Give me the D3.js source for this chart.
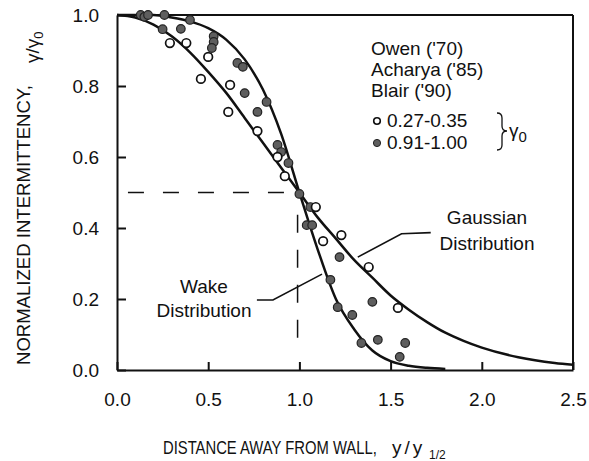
<!DOCTYPE html>
<html>
<head>
<meta charset="utf-8">
<script src="https://cdn.jsdelivr.net/npm/d3@7"></script>
<style>
  body { margin: 0; background: #fff; }
  text { font-family: "Liberation Sans", Arial, Helvetica, sans-serif; fill: #111; }
</style>
</head>
<body>
<div id="chart"></div>
<script>
// values
let xTicks = [0, 0.5, 1.0, 1.5, 2.0, 2.5];
let yTicks = [0, 0.2, 0.4, 0.6, 0.8, 1.0];

// Gaussian distribution curve
let gaussX = [0, 0.1, 0.2, 0.3, 0.4, 0.5, 0.6, 0.7, 0.8, 0.9, 1.0, 1.1, 1.2, 1.3, 1.4, 1.5, 1.6, 1.7, 1.8, 1.9, 2.0, 2.2, 2.4, 2.5];
let gaussY = [1.0, 0.993, 0.973, 0.94, 0.895, 0.84, 0.78, 0.71, 0.64, 0.57, 0.50, 0.43, 0.37, 0.31, 0.26, 0.21, 0.17, 0.135, 0.105, 0.082, 0.063, 0.036, 0.02, 0.015];

// wake distribution curve
let wakeX = [0, 0.2, 0.3, 0.4, 0.5, 0.6, 0.7, 0.8, 0.9, 1.0, 1.1, 1.2, 1.3, 1.4, 1.5, 1.6, 1.7, 1.8];
let wakeY = [1.0, 1.0, 0.993, 0.982, 0.963, 0.93, 0.875, 0.79, 0.665, 0.50, 0.34, 0.20, 0.115, 0.055, 0.025, 0.012, 0.006, 0.003];

// gamma0 = 0.27-0.35 (open)
let openX = [0.29, 0.38, 0.46, 0.50, 0.62, 0.61, 0.77, 0.88, 0.92, 1.09, 1.13, 1.23, 1.38, 1.54];
let openY = [0.921, 0.921, 0.82, 0.882, 0.803, 0.727, 0.673, 0.60, 0.546, 0.459, 0.363, 0.38, 0.29, 0.175];

// gamma0 = 0.91-1.00 (filled)
let filledX = [0.13, 0.15, 0.17, 0.26, 0.25, 0.35, 0.40, 0.53, 0.53, 0.52, 0.66, 0.69, 0.70, 0.82, 0.77, 0.88, 0.90, 0.94, 1.00, 1.06, 1.04, 1.07, 1.22, 1.17, 1.21, 1.29, 1.40, 1.34, 1.43, 1.58, 1.55];
let filledY = [1.0, 0.995, 1.0, 1.0, 0.96, 0.961, 0.986, 0.94, 0.924, 0.907, 0.865, 0.854, 0.78, 0.755, 0.727, 0.634, 0.614, 0.583, 0.496, 0.459, 0.408, 0.408, 0.318, 0.254, 0.177, 0.155, 0.192, 0.076, 0.085, 0.076, 0.037];

let legendNames = ["Owen ('70)", "Acharya ('85)", "Blair ('90)"];
let legendRanges = ["0.27-0.35", "0.91-1.00"];

let margin = {top: 15, right: 16, bottom: 91, left: 117};
let width = 589 - margin.left - margin.right;
let height = 461 - margin.top - margin.bottom;

let svg = d3.select("#chart")
    .append("svg")
        .attr("width", 589)
        .attr("height", 461);

let g = svg.append("g")
    .attr("transform", "translate(" + margin.left + "," + margin.top + ")");

let xScale = d3.scaleLinear().domain([0, 2.5]).range([0, width]);
let yScale = d3.scaleLinear().domain([0, 1]).range([height, 0]);

drawAxes();
drawGuides();
drawCurves();
drawPoints();
drawLegend();
drawLabels();

function drawAxes(){
    let xAxis = g.append("g")
        .attr("transform", "translate(0," + height + ")")
        .call(d3.axisBottom(xScale).tickValues(xTicks).tickFormat(d3.format(".1f"))
            .tickSizeInner(-8).tickSizeOuter(0).tickPadding(23));

    let yAxis = g.append("g")
        .call(d3.axisLeft(yScale).tickValues(yTicks).tickFormat(d3.format(".1f"))
            .tickSizeInner(-9).tickSizeOuter(0).tickPadding(18));

    [xAxis, yAxis].forEach((ax) => {
        ax.select(".domain").attr("stroke", "#111").attr("stroke-width", 2);
        ax.selectAll(".tick line").attr("stroke", "#111").attr("stroke-width", 2);
        ax.selectAll(".tick text")
            .style("font-size", "19px")
            .style("font-family", "'Liberation Sans', Arial, sans-serif")
            .attr("fill", "#111");
    });

    // frame top and right
    g.append("line")
        .attr("x1", 0).attr("x2", width)
        .attr("y1", yScale(1)).attr("y2", yScale(1))
        .attr("stroke", "#111").attr("stroke-width", 2);
    g.append("line")
        .attr("x1", xScale(2.5)).attr("x2", xScale(2.5))
        .attr("y1", yScale(1)).attr("y2", yScale(0))
        .attr("stroke", "#111").attr("stroke-width", 2);
}

function drawGuides(){
    g.append("line")
        .attr("x1", xScale(0.06)).attr("x2", xScale(0.93))
        .attr("y1", yScale(0.5)).attr("y2", yScale(0.5))
        .attr("stroke", "#111").attr("stroke-width", 1.5)
        .attr("stroke-dasharray", "16,19");
    g.append("line")
        .attr("x1", xScale(0.99)).attr("x2", xScale(0.99))
        .attr("y1", yScale(0.437)).attr("y2", yScale(0.09))
        .attr("stroke", "#111").attr("stroke-width", 1.5)
        .attr("stroke-dasharray", "18,17");
}

function drawCurves(){
    let line = d3.line()
        .x((d) => xScale(d[0]))
        .y((d) => yScale(d[1]))
        .curve(d3.curveMonotoneX);

    let gauss = gaussX.map((x, i) => [x, gaussY[i]]);
    let wake = wakeX.map((x, i) => [x, wakeY[i]]);

    [gauss, wake].forEach((pts) => {
        g.append("path")
            .datum(pts)
            .attr("d", line)
            .attr("fill", "none")
            .attr("stroke", "#111")
            .attr("stroke-width", 2.5);
    });

    // leader lines to the labels
    let leader = d3.line();
    g.append("path")
        .attr("d", leader([[xScale(1.72), yScale(0.387)], [xScale(1.56), yScale(0.384)], [xScale(1.32), yScale(0.318)]]))
        .attr("fill", "none").attr("stroke", "#111").attr("stroke-width", 1.6);
    g.append("path")
        .attr("d", leader([[xScale(0.767), yScale(0.197)], [xScale(0.855), yScale(0.197)], [xScale(1.124), yScale(0.27)]]))
        .attr("fill", "none").attr("stroke", "#111").attr("stroke-width", 1.6);
}

function drawPoints(){
    let open = openX.map((x, i) => [x, openY[i]]);
    let filled = filledX.map((x, i) => [x, filledY[i]]);

    g.selectAll(".filled-pt")
        .data(filled)
        .enter()
        .append("circle")
            .attr("class", "filled-pt")
            .attr("cx", (d) => xScale(d[0]))
            .attr("cy", (d) => yScale(d[1]))
            .attr("r", 4.3)
            .attr("fill", "#5e5e5e")
            .attr("stroke", "#222")
            .attr("stroke-width", 1.2);

    g.selectAll(".open-pt")
        .data(open)
        .enter()
        .append("circle")
            .attr("class", "open-pt")
            .attr("cx", (d) => xScale(d[0]))
            .attr("cy", (d) => yScale(d[1]))
            .attr("r", 4.3)
            .attr("fill", "#fff")
            .attr("stroke", "#111")
            .attr("stroke-width", 1.7);
}

function drawLegend(){
    legendNames.forEach((name, i) => {
        svg.append("text")
            .attr("x", 371)
            .attr("y", 55 + i * 21)
            .style("font-size", "19px")
            .text(name);
    });

    legendRanges.forEach((name, i) => {
        svg.append("text")
            .attr("x", 387)
            .attr("y", 127 + i * 22)
            .style("font-size", "19px")
            .text(name);
    });

    svg.append("circle")
        .attr("cx", 377).attr("cy", 121).attr("r", 3.3)
        .attr("fill", "#fff").attr("stroke", "#111").attr("stroke-width", 1.6);
    svg.append("circle")
        .attr("cx", 377).attr("cy", 143).attr("r", 3.6)
        .attr("fill", "#5e5e5e").attr("stroke", "#222").attr("stroke-width", 1);

    // brace
    svg.append("path")
        .attr("d", "M497,113 Q502,113 502,118 L502,126 Q502,131 507,131 Q502,131 502,136 L502,145 Q502,150 497,150")
        .attr("fill", "none").attr("stroke", "#111").attr("stroke-width", 1.3);

    let gam = svg.append("text")
        .attr("x", 509)
        .attr("y", 137)
        .style("font-size", "19px");
    gam.append("tspan").text("γ");
    gam.append("tspan").attr("dy", 5).style("font-size", "15px").text("0");
}

function drawLabels(){
    let gText = svg.append("text")
        .attr("x", 487).attr("y", 224)
        .attr("text-anchor", "middle")
        .style("font-size", "19px");
    gText.append("tspan").attr("x", 487).text("Gaussian");
    gText.append("tspan").attr("x", 487).attr("dy", 26).text("Distribution");

    let wText = svg.append("text")
        .attr("x", 204).attr("y", 293)
        .attr("text-anchor", "middle")
        .style("font-size", "19px");
    wText.append("tspan").attr("x", 204).text("Wake");
    wText.append("tspan").attr("x", 204).attr("dy", 24).text("Distribution");

    // x axis title (narrow lettering in the original)
    svg.append("text")
        .attr("transform", "translate(163,454) scale(0.78,1)")
        .style("font-size", "19px")
        .text("DISTANCE AWAY FROM WALL,");
    svg.append("text")
        .attr("x", 392).attr("y", 454)
        .style("font-size", "19px")
        .style("letter-spacing", "3px")
        .text("y/y");
    svg.append("text")
        .attr("x", 429).attr("y", 459)
        .style("font-size", "12px")
        .text("1/2");

    // y axis title
    svg.append("text")
        .attr("transform", "translate(30,365) rotate(-90)")
        .attr("textLength", 280)
        .attr("lengthAdjust", "spacingAndGlyphs")
        .style("font-size", "19px")
        .text("NORMALIZED INTERMITTENCY,");
    let yg = svg.append("text")
        .attr("transform", "translate(39,63) rotate(-90)")
        .style("font-size", "19px");
    yg.append("tspan").text("γ/γ");
    yg.append("tspan").attr("dy", 4).style("font-size", "13px").text("0");
}
</script>
</body>
</html>
